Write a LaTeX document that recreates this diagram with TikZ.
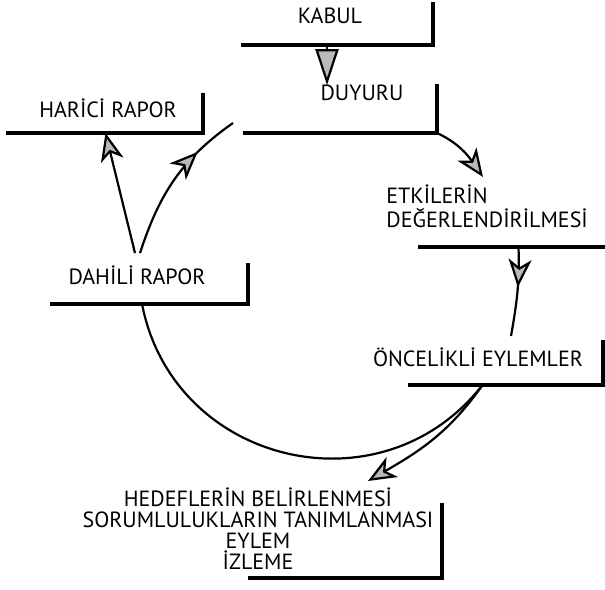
\documentclass[tikz,border=0pt]{standalone}
\usepackage{fontspec}
\setmainfont{PT Sans}
\usetikzlibrary{arrows.meta,decorations.markings}

\begin{document}
\begin{tikzpicture}[
        x=0.5pt, y=-0.5pt,
        every node/.style={font=\fontsize{11}{12}\selectfont, align=center},
        lbl/.style={inner sep=0pt, text height=7.5pt, text depth=0pt},
        fr/.style={line width=1.8pt, line cap=rect},
        lframe/.style={inner sep=0pt, outer sep=0pt, anchor=south east,
            append after command={\pgfextra{\draw[fr] (\tikzlastnode.south west) -- (\tikzlastnode.south east) -- (\tikzlastnode.north east);}}},
        lbase/.style={inner sep=0pt, outer sep=0pt, anchor=south east,
            append after command={\pgfextra{\draw[fr] (\tikzlastnode.south west) -- (\tikzlastnode.south east);}}},
        con/.style={line width=1.1pt},
        arrow/.style={con, -{Stealth[length=14pt, width=11.5pt, inset=4pt, fill=gray!55]}},
        midarrow/.style={con, postaction={decorate}, decoration={markings,
            mark=at position #1 with {\arrow{Stealth[length=14pt, width=11.5pt, inset=4pt, fill=gray!55]}}}}
    ]
    \useasboundingbox (0,0) rectangle (605,589);
    % Frames
    \node[lframe, minimum width=95pt, minimum height=20.5pt] (kabulF) at (433,45) {};
    \node[lframe, minimum width=96pt, minimum height=23.5pt] (duyuruF) at (437,133) {};
    \node[lframe, minimum width=97.5pt, minimum height=19pt] (hariciF) at (203,133) {};
    \node[lbase, minimum width=92.5pt, minimum height=20pt] (etkilerF) at (605,247) {};
    \node[lframe, minimum width=96.5pt, minimum height=21.5pt] (oncelikliF) at (603,385) {};
    \node[lframe, minimum width=98pt, minimum height=19.5pt] (dahiliF) at (248,304) {};
    \node[lframe, minimum width=96pt, minimum height=36.5pt] (hedeflerF) at (442,578) {};
    % Labels
    \node[lbl] (kabul) at (330,16) {KABUL};
    \node[lbl] (duyuru) at (362,93) {DUYURU};
    \node[lbl] (harici) at (108,110) {HARİCİ RAPOR};
    \node[lbl, anchor=west, align=left] (etkiler) at (386,220) {ETKİLERİN\\DEĞERLENDİRİLMESİ};
    \node[lbl] (oncelikli) at (478,359) {ÖNCELİKLİ EYLEMLER};
    \node[lbl] (dahili) at (137,277) {DAHİLİ RAPOR};
    \node[lbl, font=\fontsize{11}{10.5}\selectfont] (hedefler) at (258,562) {HEDEFLERİN BELİRLENMESİ\\SORUMLULUKLARIN TANIMLANMASI\\EYLEM\\İZLEME};
    % Free ends
    \coordinate (etkIn) at (483,177);
    \coordinate (oncIn) at (511,336);
    \coordinate (hedIn) at (368,481);
    % Arrows
    \draw[con, -{Triangle[length=18pt, width=11.5pt, fill=gray!55]}] ([xshift=-5.5pt]kabulF.south) -- ([xshift=-5.5pt]kabulF.south |- duyuru.north);
    \draw[arrow] (duyuruF.south east) to[out=-25, in=125] (etkIn);
    \draw[midarrow=.45] ([xshift=3pt]etkilerF.south) to[out=-88, in=80] (oncIn);
    \draw[arrow] ([xshift=-12pt]oncelikliF.south) to[out=-125, in=30] (hedIn);
    \draw[con] ([xshift=-12pt]oncelikliF.south) to[out=-128, in=-79, looseness=1.2] ([xshift=-4pt]dahiliF.south);
    \draw[arrow] ([xshift=-1pt, yshift=8pt]dahili.north) -- (hariciF.south);
    \draw[midarrow=.72] ([xshift=1.5pt, yshift=8pt]dahili.north) to[out=72, in=-145] ([xshift=-6pt, yshift=5pt]duyuruF.south west);
\end{tikzpicture}
\end{document}
